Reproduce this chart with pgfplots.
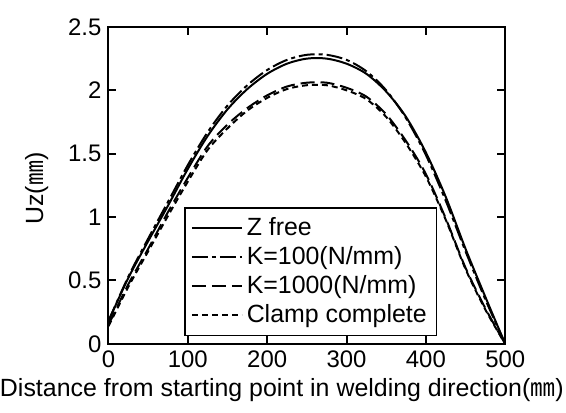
\documentclass[border=0pt]{standalone}
\usepackage{fontspec}
\setmainfont{Liberation Sans}
\newfontfamily\cjk{Noto Sans CJK JP}
\usepackage{pgfplots}
\pgfplotsset{compat=1.18}
\begin{document}
\begin{tikzpicture}
\begin{axis}[
  scale only axis,
  width=199pt, height=159pt,
  xmin=0, xmax=500, ymin=0, ymax=2.5,
  xtick={0,100,...,500}, ytick={0,0.5,...,2.5},
  tick align=inside, major tick length=4pt,
  axis line style={line width=1pt},
  tick style={line width=1pt, black},
  tick label style={font=\fontsize{12}{14}\selectfont},
  /pgf/number format/assume math mode=true,
  label style={font=\fontsize{12.5}{15}\selectfont},
  xlabel={Distance from starting point in welding direction({\cjk ㎜})},
  ylabel={Uz({\cjk ㎜})},
  xlabel style={at={(axis description cs:0.437,0)}, anchor=base, yshift=-26.5pt, inner sep=0pt},
  ylabel style={at={(axis description cs:-0.181,0.49)}, anchor=center},
  legend style={at={(axis description cs:0.191,0.025)}, anchor=south west,
    font=\fontsize{12.5}{14}\selectfont, draw=black, line width=0.7pt,
    inner xsep=3pt, inner ysep=2.8pt, row sep=0pt, cells={anchor=west}},
  legend image code/.code={\draw[#1] (0pt,0pt) -- (25pt,0pt);},
]
\coordinate (sw) at (rel axis cs:0,0);
\coordinate (ne) at (rel axis cs:1,1);
\addplot[black, line width=1pt, smooth] coordinates {
  (0,0.18) (25,0.52) (50,0.81) (75,1.09) (100,1.38) (125,1.64) (150,1.85)
  (175,2.01) (200,2.13) (225,2.21) (250,2.25) (275,2.25) (300,2.21)
  (325,2.13) (350,1.99) (375,1.79) (400,1.51) (425,1.16) (450,0.75)
  (475,0.37) (500,0)
};
\addlegendentry{Z free}
\addplot[black, line width=1pt, smooth, dash pattern={on 8pt off 2pt on 2pt off 2pt}] coordinates {
  (0,0.18) (25,0.53) (50,0.83) (75,1.12) (100,1.41) (125,1.67) (150,1.88)
  (175,2.04) (200,2.16) (225,2.24) (250,2.28) (275,2.28) (300,2.24)
  (325,2.15) (350,2.00) (375,1.78) (400,1.49) (425,1.13) (450,0.73)
  (475,0.35) (500,0)
};
\addlegendentry{K=100(N/mm)}
\addplot[black, line width=1pt, smooth, dash pattern={on 7pt off 3pt}] coordinates {
  (0,0.15) (25,0.47) (50,0.75) (75,1.04) (100,1.31) (125,1.56) (150,1.73)
  (175,1.86) (200,1.96) (225,2.03) (250,2.06) (275,2.06) (300,2.02)
  (325,1.95) (350,1.81) (375,1.60) (400,1.34) (425,0.99) (450,0.60)
  (475,0.28) (500,0)
};
\addlegendentry{K=1000(N/mm)}
\addplot[black, line width=1pt, smooth, dash pattern={on 3pt off 2pt}] coordinates {
  (0,0.14) (25,0.45) (50,0.73) (75,1.01) (100,1.28) (125,1.53) (150,1.70)
  (175,1.84) (200,1.94) (225,2.01) (250,2.04) (275,2.04) (300,2.00)
  (325,1.93) (350,1.79) (375,1.58) (400,1.32) (425,0.98) (450,0.59)
  (475,0.27) (500,0)
};
\addlegendentry{Clamp complete}
\end{axis}
\path ([xshift=-53.5pt,yshift=-34.5pt]sw) rectangle ([xshift=30.5pt,yshift=13.5pt]ne);
\end{tikzpicture}
\end{document}
